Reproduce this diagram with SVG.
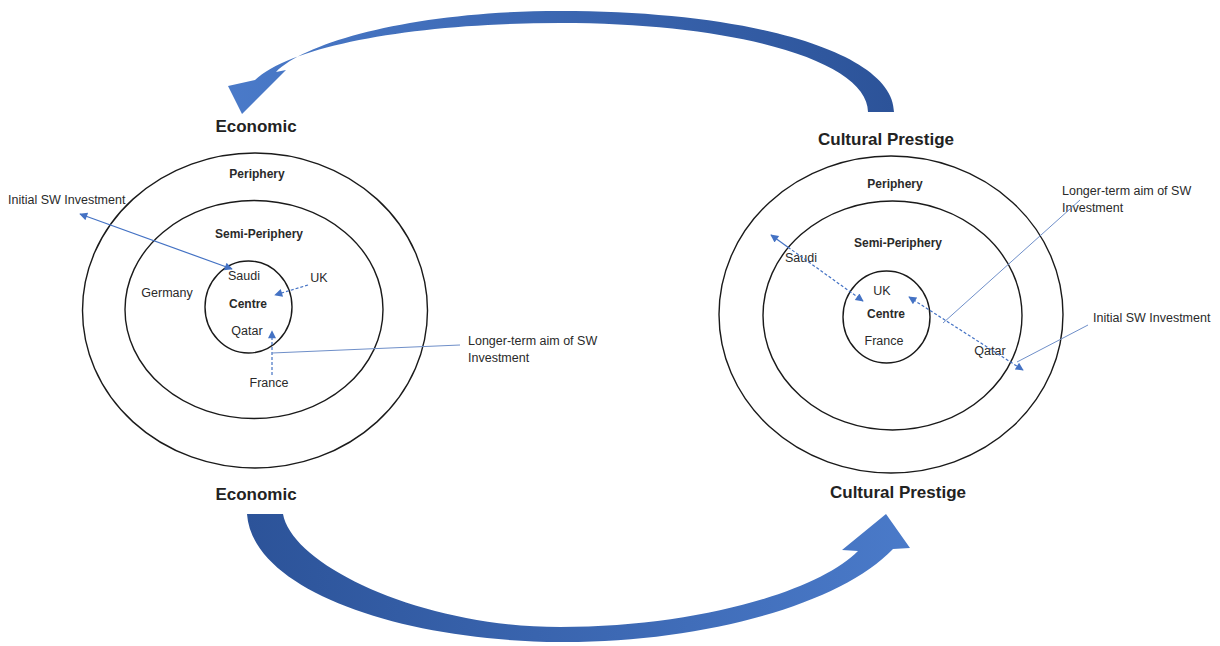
<svg xmlns="http://www.w3.org/2000/svg" width="1220" height="646" viewBox="0 0 1220 646">
<style>
.ring{fill:none;stroke:#1a1a1a;stroke-width:1.4}
.t{font-family:"Liberation Sans",Arial,sans-serif;font-size:12.5px;fill:#2a2a2a}
.b{font-family:"Liberation Sans",Arial,sans-serif;font-size:12px;font-weight:bold;fill:#2a2a2a}
.h{font-family:"Liberation Sans",Arial,sans-serif;font-size:17px;font-weight:bold;fill:#222}
.c{stroke:#4472C4;stroke-width:1.2;fill:none}
.d{stroke-dasharray:3 2}
.thin{stroke:#6f8fc9;stroke-width:1}
</style>
<defs>
<marker id="ah" viewBox="0 0 10 10" refX="9" refY="5" markerWidth="10" markerHeight="8" markerUnits="userSpaceOnUse" orient="auto-start-reverse">
<path d="M0,0 L10,5 L0,10 Z" fill="#4472C4"/>
</marker>
<linearGradient id="gTop" x1="0" y1="0" x2="1" y2="0">
<stop offset="0" stop-color="#4A7AC9"/>
<stop offset="1" stop-color="#2C5399"/>
</linearGradient>
<linearGradient id="gBot" x1="0" y1="0" x2="1" y2="0">
<stop offset="0" stop-color="#2C5399"/>
<stop offset="1" stop-color="#4A7AC9"/>
</linearGradient>
</defs>
<rect width="1220" height="646" fill="#ffffff"/>

<g id="arrow-top">
<path d="M 894 112 C 894 55 760 11 560 11 C 420 11 308 40 276 72 L 286 70 L 242 114 L 228 86 L 255 80 C 294 44 420 23 560 23 C 740 23 868 62 868 112 Z" fill="url(#gTop)"/>
</g>
<g id="arrow-bottom">
<path d="M 247 514 L 283 514 C 292 565 420 627 560 627 C 700 627 820 590 858 551 L 842 550 L 886 514 L 910 548 L 893 549 C 840 605 700 643 560 642 C 400 641 252 590 247 514 Z" fill="url(#gBot)"/>
</g>

<g id="economic-diagram">
<g id="econ-periphery">
<ellipse class="ring" cx="255" cy="310.5" rx="172.5" ry="157.5"/>
<text class="b" x="257" y="178" text-anchor="middle">Periphery</text>
</g>
<g id="econ-semi-periphery">
<ellipse class="ring" cx="254" cy="309.5" rx="129" ry="109"/>
<text class="b" x="259" y="238" text-anchor="middle">Semi-Periphery</text>
<text class="t" x="167" y="297" text-anchor="middle">Germany</text>
<text class="t" x="319" y="282" text-anchor="middle">UK</text>
<text class="t" x="269" y="387" text-anchor="middle">France</text>
</g>
<g id="econ-centre">
<ellipse class="ring" cx="248.5" cy="307" rx="43.5" ry="46"/>
<text class="t" x="244" y="280" text-anchor="middle">Saudi</text>
<text class="b" x="248" y="308" text-anchor="middle">Centre</text>
<text class="t" x="247" y="335" text-anchor="middle">Qatar</text>
</g>
<text class="t" x="8" y="204">Initial SW Investment</text>
<text class="t" x="468" y="345">Longer-term aim of SW</text>
<text class="t" x="468" y="362">Investment</text>
</g>

<g id="cultural-diagram">
<g id="cult-periphery">
<ellipse class="ring" cx="891" cy="314.5" rx="172" ry="158.5"/>
<text class="b" x="895" y="188" text-anchor="middle">Periphery</text>
</g>
<g id="cult-semi-periphery">
<ellipse class="ring" cx="892.5" cy="315.5" rx="129.5" ry="114.5"/>
<text class="b" x="898" y="247" text-anchor="middle">Semi-Periphery</text>
<text class="t" x="801" y="262" text-anchor="middle">Saudi</text>
<text class="t" x="990" y="355" text-anchor="middle">Qatar</text>
</g>
<g id="cult-centre">
<ellipse class="ring" cx="886.5" cy="317" rx="43.5" ry="46"/>
<text class="t" x="882" y="295" text-anchor="middle">UK</text>
<text class="b" x="886" y="318" text-anchor="middle">Centre</text>
<text class="t" x="884" y="345" text-anchor="middle">France</text>
</g>
<text class="t" x="1062" y="195">Longer-term aim of SW</text>
<text class="t" x="1062" y="212">Investment</text>
<text class="t" x="1093" y="322">Initial SW Investment</text>
</g>

<g id="titles">
<text class="h" x="256" y="132" text-anchor="middle">Economic</text>
<text class="h" x="256" y="500" text-anchor="middle">Economic</text>
<text class="h" x="886" y="145" text-anchor="middle">Cultural Prestige</text>
<text class="h" x="898" y="498" text-anchor="middle">Cultural Prestige</text>
</g>

<g id="connectors">
<line class="c" x1="80" y1="214" x2="232" y2="269" marker-start="url(#ah)" marker-end="url(#ah)"/>
<line class="c d" x1="308" y1="285" x2="275" y2="295" marker-end="url(#ah)"/>
<line class="c d" x1="272" y1="375" x2="272" y2="331" marker-end="url(#ah)"/>
<line class="thin" x1="272" y1="353" x2="460" y2="345"/>
<line class="c" x1="771" y1="235" x2="788" y2="247.2" marker-start="url(#ah)"/>
<line class="c d" x1="788" y1="247.2" x2="863" y2="301" marker-end="url(#ah)"/>
<line class="c d" x1="909" y1="297" x2="1023" y2="370" marker-start="url(#ah)" marker-end="url(#ah)"/>
<line class="thin" x1="1088" y1="325" x2="1017" y2="362"/>
<line class="thin" x1="1080" y1="200" x2="943" y2="323"/>
</g>
</svg>
